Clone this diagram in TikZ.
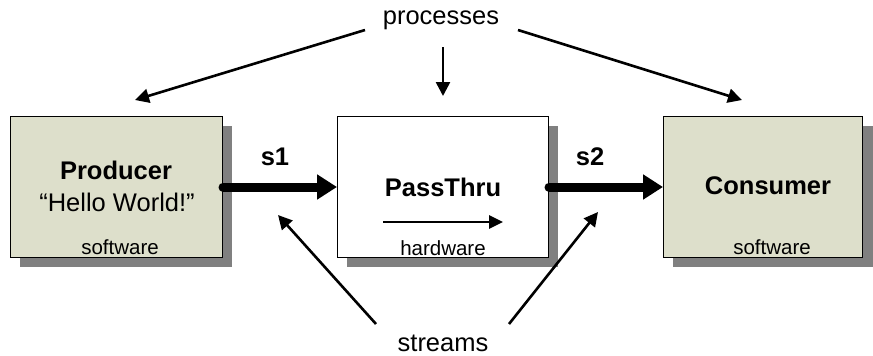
\documentclass[tikz,border=0pt]{standalone}
\usepackage{fontspec}
\setmainfont{Liberation Sans}
\usetikzlibrary{arrows.meta}
\definecolor{procgreen}{HTML}{DDDFCB}
\definecolor{shadowgray}{HTML}{808080}
\tikzset{
  procbox/.style={draw=black, line width=1pt, anchor=north west, inner sep=0pt, minimum height=141pt},
  streamarrow/.style={line width=9pt, line cap=round, -{Triangle[length=20pt, width=24pt]}},
  pointer/.style={line width=2.6pt, -{Triangle[length=14pt, width=14pt]}},
  bigbold/.style={font=\fontsize{25.5}{25.5}\selectfont\bfseries},
  label/.style={font=\fontsize{25.5}{25.5}\selectfont},
  small/.style={font=\fontsize{20.5}{20.5}\selectfont},
}
\begin{document}
\begin{tikzpicture}[x=1pt, y=-1pt]
\useasboundingbox (0,0) rectangle (873,356);

% shadows
\fill[shadowgray] (20,126) rectangle (232,267);
\fill[shadowgray] (347,126) rectangle (558,267);
\fill[shadowgray] (673,126) rectangle (873,267);

% process boxes
\node[procbox, fill=procgreen, minimum width=212pt] (prod) at (10,116) {};
\node[procbox, fill=white, minimum width=211pt] (pass) at (337,116) {};
\node[procbox, fill=procgreen, minimum width=199pt] (cons) at (663,116) {};

% box texts
\node[bigbold] (prodname) at (116,170) {Producer};
\node[label] (hello) at (117,202) {“Hello World!”};
\node[small] (prodkind) at (120,247) {software};
\node[bigbold] (passname) at (443,187) {PassThru};
\coordinate (inA) at (383,222);
\coordinate (inB) at (503,222);
\draw[line width=2.6pt, -{Triangle[length=14pt, width=13pt]}] (inA) -- (inB);
\node[small] (passkind) at (443,248) {hardware};
\node[bigbold] (consname) at (768,186) {Consumer};
\node[small] (conskind) at (772,247) {software};

% streams between processes
\draw[streamarrow] (prod.east |- 0,187) -- (pass.west |- 0,187);
\draw[streamarrow] (pass.east |- 0,187) -- (cons.west |- 0,187);
\node[bigbold] (s1) at (275,157) {s1};
\node[bigbold] (s2) at (590,157) {s2};

% annotations
\node[label] (proc) at (441,20) {processes};
\coordinate (p1) at (135,100);
\coordinate (p2) at (443,96);
\coordinate (p3) at (742,100);
\draw[pointer] (365,30) -- (p1);
\draw[pointer] (443,47) -- (p2);
\draw[pointer] (518,30) -- (p3);

\node[label] (str) at (443,343) {streams};
\coordinate (t1) at (278,215);
\coordinate (t2) at (598,212);
\draw[pointer] (376,324) -- (t1);
\draw[pointer] (509,324) -- (t2);
\end{tikzpicture}
\end{document}
